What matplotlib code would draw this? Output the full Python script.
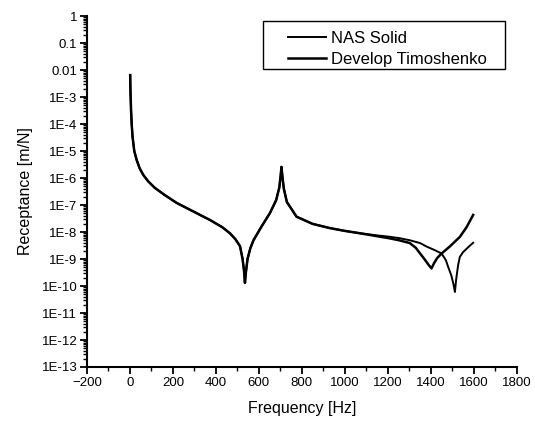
import math
import matplotlib
matplotlib.use("Agg")
import matplotlib.pyplot as plt
from matplotlib.patches import Rectangle
from matplotlib.ticker import FixedLocator, FuncFormatter, MultipleLocator, LogLocator, NullFormatter

plt.rcParams['font.family'] = ['Liberation Sans', 'DejaVu Sans']

# Shared low-frequency part (both models coincide up to ~1050 Hz)
freq_common = [1, 2, 5, 8, 12, 20, 31, 45, 62, 85, 116, 160, 217, 300, 372, 430, 465,
               490, 512, 524, 531, 535, 539, 547, 560, 575, 610, 651, 680, 695, 701,
               705, 709, 716, 730, 775, 850, 930, 1000, 1070]
val_common = [6.5e-3, 2e-3, 3.3e-4, 1e-4, 3.4e-5, 1e-5, 4.7e-6, 2.3e-6, 1.3e-6, 7.5e-7,
              4.3e-7, 2.4e-7, 1.2e-7, 5.5e-8, 2.8e-8, 1.5e-8, 9e-9,
              5.5e-9, 3e-9, 1e-9, 3.5e-10, 1.3e-10, 3e-10, 1e-9, 2.5e-9, 5e-9, 1.5e-8,
              5e-8, 1.5e-7, 4.5e-7, 1.2e-6, 2.6e-6, 1.2e-6, 4e-7, 1.3e-7, 3.7e-8, 2e-8,
              1.4e-8, 1.1e-8, 9e-9]

# High-frequency branch: NAS Solid (anti-resonance near 1510 Hz)
freq_nas = [1150, 1200, 1250, 1300, 1350, 1380, 1420, 1450, 1470, 1481, 1495, 1505,
            1512, 1518, 1527, 1535, 1550, 1575, 1597]
val_nas = [7.5e-9, 6.8e-9, 6e-9, 5e-9, 3.9e-9, 2.9e-9, 2.1e-9, 1.6e-9, 9e-10, 5e-10,
           2.5e-10, 1.2e-10, 6e-11, 1.8e-10, 6e-10, 1.2e-9, 1.8e-9, 2.8e-9, 4e-9]

# High-frequency branch: Develop Timoshenko (anti-resonance near 1400 Hz)
freq_tim = [1150, 1200, 1250, 1302, 1330, 1350, 1370, 1390, 1403, 1415, 1430, 1450,
            1488, 1535, 1566, 1597]
val_tim = [7e-9, 6e-9, 5e-9, 3.9e-9, 2.6e-9, 1.6e-9, 1e-9, 6e-10, 4.5e-10, 7e-10,
           1.1e-9, 1.6e-9, 2.9e-9, 6.6e-9, 1.5e-8, 4.3e-8]

x_ticks = [-200, 0, 200, 400, 600, 800, 1000, 1200, 1400, 1600, 1800]
y_exps = list(range(-13, 1))
y_labels = {0: "1", -1: "0.1", -2: "0.01"}

fig = plt.figure(figsize=(5.35, 4.23), dpi=100)
ax = fig.add_axes([0.1626, 0.1324, 0.8034, 0.8296])

ax.plot(freq_common + freq_nas, val_common + val_nas, color='black', lw=1.4,
        label='NAS Solid')
ax.plot(freq_common + freq_tim, val_common + val_tim, color='black', lw=1.8,
        label='Develop Timoshenko')

ax.set_yscale('log')
ax.set_xlim(-200, 1800)
ax.set_ylim(1e-13, 1)

ax.xaxis.set_major_locator(FixedLocator(x_ticks))
ax.xaxis.set_minor_locator(MultipleLocator(100))
ax.yaxis.set_major_locator(FixedLocator([10.0 ** e for e in y_exps]))
ax.yaxis.set_minor_locator(LogLocator(base=10, subs=range(2, 10), numticks=100))
ax.yaxis.set_minor_formatter(NullFormatter())

def yfmt(v, pos):
    e = int(round(math.log10(v)))
    return y_labels.get(e, "1E%d" % e)
ax.yaxis.set_major_formatter(FuncFormatter(yfmt))

for s in ['top', 'right']:
    ax.spines[s].set_visible(False)
for s in ['left', 'bottom']:
    ax.spines[s].set_linewidth(1.5)

ax.tick_params(axis='both', which='major', direction='out', length=5, width=1.3,
               labelsize=9.5, pad=2)
ax.tick_params(axis='both', which='minor', direction='out', length=3, width=1.0)

ax.set_xlabel('Frequency [Hz]', fontsize=11.5, labelpad=9)
ax.set_ylabel('Receptance [m/N]', fontsize=11.5, labelpad=6)

# legend with a frame drawn as a separate box (matching the reference's wide padding)
fig.patches.append(Rectangle((263 / 535, 1 - 69 / 423), 242 / 535, 48 / 423,
                             transform=fig.transFigure, fill=False,
                             edgecolor='black', lw=1.0))
leg = fig.legend(loc='upper left', bbox_to_anchor=(288 / 535, 1 - 31 / 423),
                 fontsize=12, frameon=False, handlelength=2.3, borderpad=0,
                 borderaxespad=0, labelspacing=0.35, handletextpad=0.3)

fig.savefig('out.png', dpi=100)
